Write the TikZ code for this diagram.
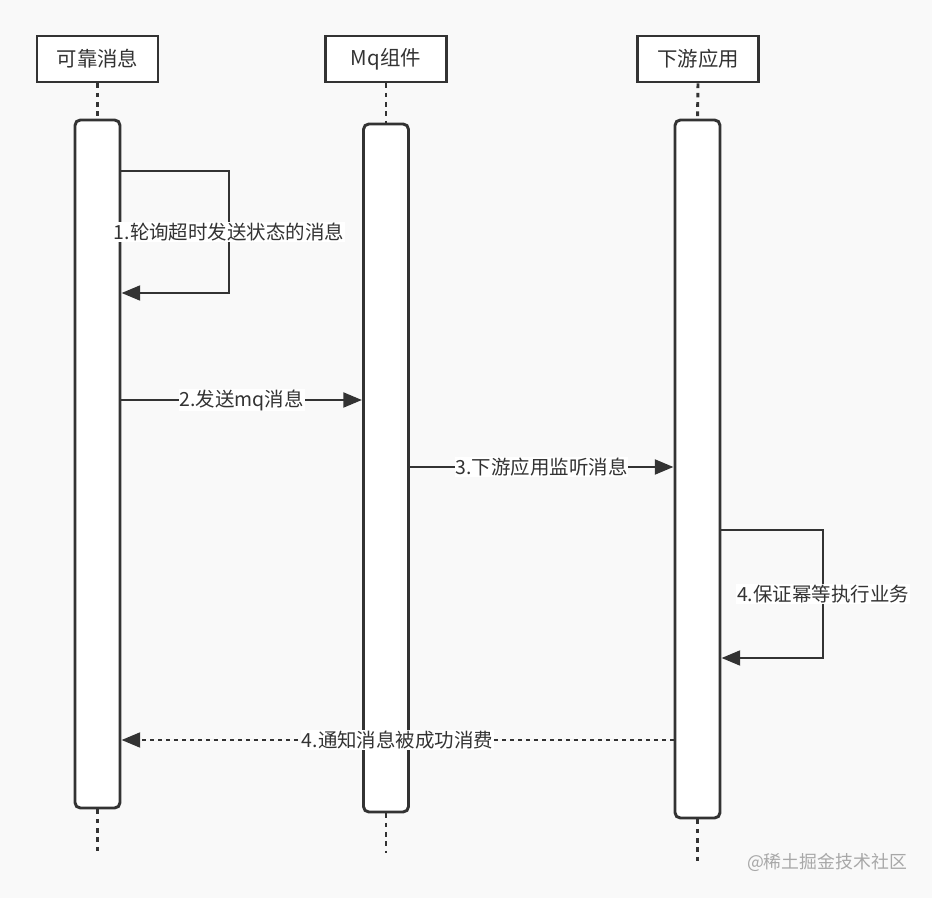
\documentclass[tikz,border=0pt]{standalone}
\usepackage{fontspec}
\setmainfont{Noto Sans CJK SC}
\usetikzlibrary{arrows.meta,calc}
\definecolor{ln}{HTML}{333333}
\definecolor{bg}{HTML}{F9F9F9}
\definecolor{wm}{HTML}{A8A8A8}
\begin{document}
\begin{tikzpicture}[x=0.75pt,y=-0.75pt,
  actor/.style={draw=ln,line width=2.2pt,fill=white,minimum width=90.75pt,minimum height=34.5pt,inner sep=0pt,font=\fontsize{15.3}{17}\selectfont,text=ln},
  bar/.style={draw=ln,line width=2.2pt,fill=white,rounded corners=4pt,minimum width=33.75pt,inner sep=0pt},
  life/.style={ln,line width=2.2pt,dash pattern=on 3.5pt off 3.5pt},
  msg/.style={ln,line width=2.2pt,-{Triangle[length=14pt,width=11pt]}},
  ret/.style={msg,dash pattern=on 3pt off 3pt},
  lbl/.style={fill=white,inner sep=0.5pt,text=ln,font=\fontsize{14.6}{16}\selectfont}
]
\fill[bg] (0,0) rectangle (932,898);
\useasboundingbox (0,0) rectangle (932,898);

% actors
\node[actor] (a1) at (97.5,59) {可靠消息};
\node[actor] (a2) at (386,59) {Mq组件};
\node[actor] (a3) at (698,59) {下游应用};

% activation bars
\node[bar,minimum height=516pt] (b1) at (97.5,464) {};
\node[bar,minimum height=516pt] (b2) at (386,468) {};
\node[bar,minimum height=523.5pt] (b3) at (697.5,469) {};

% lifeline ends
\coordinate (e1) at (97.5,853);
\coordinate (e2) at (386,853);
\coordinate (e3) at (697.5,862);

\draw[life] (a1.south) -- (b1.north);
\draw[life] (a2.south) -- (b2.north);
\draw[life] (a3.south) -- (b3.north);
\draw[life] (b1.south) -- (e1);
\draw[life] (b2.south) -- (e2);
\draw[life] (b3.south) -- (e3);

% message coordinates
\coordinate (s1a) at (229,171);
\coordinate (s1b) at (229,293);
\coordinate (m2) at (0,400);
\coordinate (m3) at (0,467);
\coordinate (s4a) at (823,530);
\coordinate (s4b) at (823,658);
\coordinate (m5) at (0,740);

% 1 self message
\draw[msg] (b1.east |- s1a) -- (s1a) -- node[lbl]{1.轮询超时发送状态的消息} (s1b) -- (b1.east |- s1b);
% 2
\draw[msg] (b1.east |- m2) -- node[lbl]{2.发送mq消息} (b2.west |- m2);
% 3
\draw[msg] (b2.east |- m3) -- node[lbl]{3.下游应用监听消息} (b3.west |- m3);
% 4 self message
\draw[msg] (b3.east |- s4a) -- (s4a) -- node[lbl]{4.保证幂等执行业务} (s4b) -- (b3.east |- s4b);
% return
\draw[ret] (b3.west |- m5) -- node[lbl]{4.通知消息被成功消费} (b1.east |- m5);

% watermark
\node[text=wm,font=\fontsize{13.4}{15}\selectfont,inner sep=0pt] (wmk) at (827,862) {@稀土掘金技术社区};
\end{tikzpicture}
\end{document}
